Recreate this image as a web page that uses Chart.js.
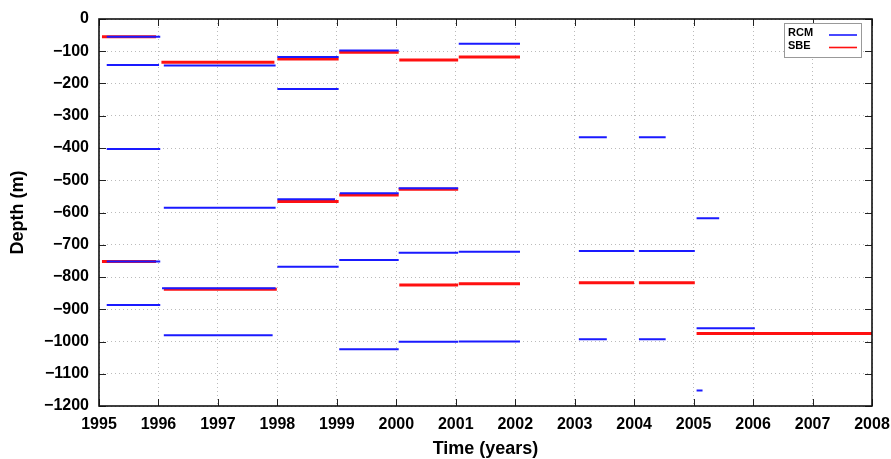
<!DOCTYPE html>
<html>
<head>
<meta charset="utf-8">
<script src="https://cdn.jsdelivr.net/npm/chart.js@4/dist/chart.umd.min.js"></script>
<style>
  html, body { margin: 0; padding: 0; background: #fff; }
  #wrap { width: 891px; height: 459px; }
</style>
</head>
<body>
<div id="wrap"><canvas id="chart"></canvas></div>
<script>
// RCM segments: start year, end year, depth (m)
const rcmStart = [1995.13, 1995.13, 1995.13, 1995.13, 1995.13, 1996.09, 1996.09, 1996.06, 1996.09,
  1998.0, 1998.0, 1998.0, 1998.0, 1999.04, 1999.05, 1999.04, 1999.04, 2000.04, 2000.04, 2000.04,
  2001.05, 2001.05, 2001.05, 2003.07, 2003.07, 2003.07, 2004.08, 2004.08, 2004.08, 2005.05, 2005.05, 2005.05];
const rcmEnd = [1996.03, 1996.01, 1996.03, 1996.03, 1996.03, 1997.97, 1997.97, 1997.97, 1997.92,
  1999.03, 1999.03, 1998.97, 1999.03, 2000.04, 2000.04, 2000.04, 2000.04, 2001.04, 2001.04, 2001.04,
  2002.08, 2002.08, 2002.08, 2003.54, 2004.0, 2003.54, 2004.53, 2005.02, 2004.53, 2005.43, 2006.03, 2005.15];
const rcmDepth = [-55, -143, -403, -752, -887, -144, -585, -835, -981,
  -118, -217, -559, -768, -98, -540, -747, -1024, -525, -725, -1001,
  -77, -722, -1000, -367, -719, -993, -367, -719, -993, -618, -959, -1152];

// SBE segments
const sbeStart = [1995.05, 1995.05, 1996.05, 1996.09, 1998.0, 1998.0, 1999.04, 1999.04,
  2000.05, 2000.04, 2000.05, 2001.05, 2001.05, 2003.07, 2004.08, 2005.05];
const sbeEnd = [1995.96, 1995.96, 1997.95, 1997.99, 1999.03, 1999.03, 2000.04, 2000.04,
  2001.04, 2001.04, 2001.04, 2002.08, 2002.08, 2004.0, 2005.02, 2008.0];
const sbeDepth = [-55, -752, -134, -838, -124, -566, -103, -546,
  -127, -528, -825, -118, -821, -818, -818, -975];

const yearTicks = [1995, 1996, 1997, 1998, 1999, 2000, 2001, 2002, 2003, 2004, 2005, 2006, 2007, 2008];

// turn start/end/depth lists into one line with gaps between segments
function segments(starts, ends, depths) {
  const pts = [];
  starts.forEach((s, i) => {
    pts.push({x: s, y: depths[i]});
    pts.push({x: ends[i], y: depths[i]});
    pts.push({x: ends[i], y: null});
  });
  return pts;
}

const FONT = 'Liberation Sans, Arial, Helvetica, sans-serif';

// box round the plot, inward tick marks and the legend
const framePlugin = {
  id: 'frame',
  afterDraw(chart) {
    const ctx = chart.ctx;
    const a = chart.chartArea;
    const xs = chart.scales.x, ys = chart.scales.y;
    ctx.save();
    ctx.strokeStyle = '#222';
    ctx.lineWidth = 1;
    ctx.beginPath();
    xs.ticks.forEach(t => {
      const px = Math.round(xs.getPixelForValue(t.value)) + 0.5;
      ctx.moveTo(px, a.bottom); ctx.lineTo(px, a.bottom - 7);
      ctx.moveTo(px, a.top); ctx.lineTo(px, a.top + 7);
    });
    ys.ticks.forEach(t => {
      const py = Math.round(ys.getPixelForValue(t.value)) + 0.5;
      ctx.moveTo(a.left, py); ctx.lineTo(a.left + 7, py);
      ctx.moveTo(a.right, py); ctx.lineTo(a.right - 7, py);
    });
    ctx.stroke();
    ctx.lineWidth = 1.6;
    ctx.strokeStyle = '#111';
    ctx.strokeRect(a.left, a.top, a.right - a.left, a.bottom - a.top);

    // legend
    const bx = 784, by = 23, bw = 77, bh = 34;
    ctx.fillStyle = '#fff';
    ctx.fillRect(bx, by, bw, bh);
    ctx.lineWidth = 1;
    ctx.strokeStyle = '#999';
    ctx.strokeRect(bx + 0.5, by + 0.5, bw, bh);
    ctx.font = 'bold 11px ' + FONT;
    ctx.textBaseline = 'middle';
    ctx.textAlign = 'left';
    chart.data.datasets.forEach((ds, i) => {
      const y = by + 10 + i * 12.5;
      ctx.fillStyle = '#000';
      ctx.fillText(ds.label, bx + 4, y);
      ctx.strokeStyle = ds.borderColor;
      ctx.lineWidth = 1.6;
      ctx.beginPath();
      ctx.moveTo(bx + 45, y + 2);
      ctx.lineTo(bx + 73, y + 2);
      ctx.stroke();
    });
    ctx.restore();
  }
};

new Chart(document.getElementById('chart'), {
  type: 'line',
  data: {
    datasets: [
      {
        label: 'RCM',
        data: segments(rcmStart, rcmEnd, rcmDepth),
        borderColor: '#1a1aff',
        borderWidth: 2,
        pointRadius: 0,
        tension: 0
      },
      {
        label: 'SBE',
        data: segments(sbeStart, sbeEnd, sbeDepth),
        borderColor: '#ff1010',
        borderWidth: 3,
        pointRadius: 0,
        tension: 0
      }
    ]
  },
  options: {
    responsive: true,
    maintainAspectRatio: false,
    animation: false,
    events: [],
    layout: { padding: { top: 19, right: 19, left: 0, bottom: 0 } },
    plugins: {
      legend: { display: false },
      tooltip: { enabled: false }
    },
    scales: {
      x: {
        type: 'linear',
        min: 1995,
        max: 2008,
        afterBuildTicks: s => { s.ticks = yearTicks.map(v => ({value: v})); },
        afterFit: s => { s.height = 53; s.paddingLeft = 0; s.paddingRight = 0; },
        ticks: {
          color: '#000',
          padding: 9,
          font: { family: FONT, size: 16, weight: 'bold' },
          callback: v => String(v)
        },
        grid: { color: '#bbb', lineWidth: 1, drawTicks: false },
        border: { display: false, dash: [1, 3] },
        title: {
          display: true,
          text: 'Time (years)',
          color: '#000',
          font: { family: FONT, size: 18, weight: 'bold' },
          padding: { top: 0, bottom: -1 }
        }
      },
      y: {
        min: -1200,
        max: 0,
        ticks: {
          stepSize: 100,
          color: '#000',
          padding: 10,
          font: { family: FONT, size: 16, weight: 'bold' },
          callback: v => String(v).replace('-', '\u2212')
        },
        afterFit: s => { s.width = 99; s.paddingTop = 0; s.paddingBottom = 0; },
        grid: { color: '#bbb', lineWidth: 1, drawTicks: false },
        border: { display: false, dash: [1, 3] },
        title: {
          display: true,
          text: 'Depth (m)',
          color: '#000',
          font: { family: FONT, size: 18, weight: 'bold' },
          padding: { top: 7, bottom: 0 }
        }
      }
    }
  },
  plugins: [framePlugin]
});
</script>
</body>
</html>
